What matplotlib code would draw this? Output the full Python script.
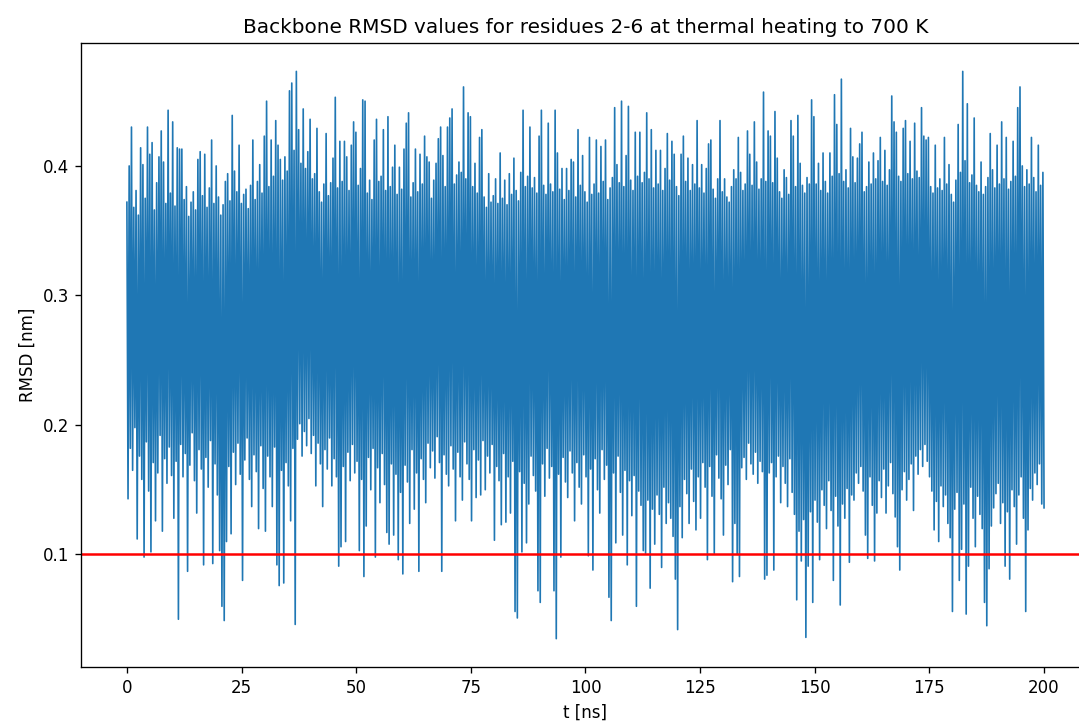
import numpy as np
import matplotlib
matplotlib.use("Agg")
import matplotlib.pyplot as plt

# ==========================================
# Data (nm)
# upper / lower excursions every 0.5 ns, 0 ... 200 ns
# ==========================================

rmsd_high = [
    0.372, 0.400, 0.430, 0.368, 0.381, 0.362, 0.414, 0.401, 0.375, 0.430, 0.409, 0.418, 0.366, 0.387, 0.407, 0.427, 0.403, 0.371, 0.443, 0.379,
    0.434, 0.369, 0.414, 0.413, 0.413, 0.374, 0.384, 0.361, 0.372, 0.380, 0.366, 0.405, 0.411, 0.377, 0.409, 0.368, 0.383, 0.420, 0.371, 0.400,
    0.376, 0.362, 0.370, 0.388, 0.394, 0.373, 0.439, 0.396, 0.380, 0.416, 0.371, 0.378, 0.382, 0.367, 0.385, 0.420, 0.374, 0.388, 0.401, 0.379,
    0.423, 0.450, 0.384, 0.420, 0.392, 0.435, 0.416, 0.405, 0.389, 0.407, 0.396, 0.458, 0.464, 0.412, 0.473, 0.428, 0.402, 0.444, 0.398, 0.411,
    0.436, 0.390, 0.394, 0.429, 0.380, 0.372, 0.386, 0.425, 0.377, 0.387, 0.406, 0.453, 0.383, 0.419, 0.388, 0.419, 0.407, 0.381, 0.416, 0.434,
    0.426, 0.385, 0.398, 0.451, 0.450, 0.379, 0.389, 0.374, 0.420, 0.436, 0.388, 0.392, 0.428, 0.381, 0.438, 0.384, 0.399, 0.416, 0.378, 0.399,
    0.382, 0.413, 0.433, 0.441, 0.376, 0.387, 0.413, 0.380, 0.409, 0.386, 0.423, 0.407, 0.403, 0.375, 0.389, 0.402, 0.421, 0.430, 0.408, 0.384,
    0.430, 0.437, 0.444, 0.386, 0.393, 0.403, 0.395, 0.461, 0.390, 0.441, 0.438, 0.384, 0.402, 0.379, 0.422, 0.428, 0.376, 0.368, 0.394, 0.372,
    0.377, 0.390, 0.371, 0.410, 0.375, 0.389, 0.370, 0.394, 0.378, 0.406, 0.381, 0.373, 0.395, 0.443, 0.384, 0.392, 0.430, 0.383, 0.391, 0.379,
    0.423, 0.443, 0.385, 0.378, 0.433, 0.386, 0.380, 0.443, 0.410, 0.382, 0.398, 0.374, 0.398, 0.381, 0.405, 0.403, 0.376, 0.428, 0.385, 0.408,
    0.380, 0.372, 0.422, 0.378, 0.386, 0.420, 0.379, 0.415, 0.388, 0.420, 0.374, 0.383, 0.391, 0.445, 0.401, 0.387, 0.450, 0.384, 0.408, 0.446,
    0.389, 0.381, 0.426, 0.392, 0.426, 0.387, 0.395, 0.441, 0.390, 0.428, 0.383, 0.412, 0.386, 0.412, 0.381, 0.398, 0.425, 0.389, 0.419, 0.409,
    0.384, 0.377, 0.409, 0.423, 0.388, 0.406, 0.381, 0.401, 0.386, 0.435, 0.383, 0.401, 0.379, 0.398, 0.417, 0.420, 0.382, 0.375, 0.390, 0.435,
    0.380, 0.390, 0.376, 0.372, 0.384, 0.397, 0.390, 0.422, 0.395, 0.381, 0.386, 0.427, 0.409, 0.385, 0.434, 0.403, 0.382, 0.390, 0.457, 0.388,
    0.427, 0.423, 0.387, 0.442, 0.406, 0.380, 0.375, 0.397, 0.391, 0.378, 0.435, 0.423, 0.384, 0.439, 0.402, 0.385, 0.379, 0.391, 0.386, 0.451,
    0.438, 0.386, 0.402, 0.381, 0.410, 0.388, 0.379, 0.410, 0.392, 0.455, 0.432, 0.394, 0.467, 0.388, 0.397, 0.383, 0.429, 0.407, 0.387, 0.406,
    0.417, 0.426, 0.380, 0.384, 0.403, 0.386, 0.410, 0.390, 0.404, 0.422, 0.388, 0.412, 0.385, 0.397, 0.454, 0.434, 0.426, 0.392, 0.388, 0.429,
    0.435, 0.394, 0.419, 0.390, 0.433, 0.396, 0.391, 0.445, 0.423, 0.420, 0.422, 0.384, 0.379, 0.416, 0.383, 0.390, 0.381, 0.422, 0.386, 0.401,
    0.378, 0.372, 0.389, 0.432, 0.395, 0.473, 0.404, 0.448, 0.387, 0.393, 0.437, 0.385, 0.380, 0.403, 0.378, 0.384, 0.391, 0.425, 0.397, 0.383,
    0.416, 0.386, 0.434, 0.390, 0.422, 0.382, 0.388, 0.419, 0.392, 0.445, 0.461, 0.400, 0.384, 0.397, 0.386, 0.422, 0.391, 0.380, 0.416, 0.385,
    0.395,
]

rmsd_low = [
    0.143, 0.182, 0.165, 0.198, 0.112, 0.176, 0.158, 0.098, 0.187, 0.149, 0.102, 0.171, 0.126, 0.163, 0.192, 0.118, 0.174, 0.155, 0.183, 0.161,
    0.128, 0.172, 0.050, 0.185, 0.160, 0.178, 0.087, 0.169, 0.194, 0.157, 0.132, 0.181, 0.166, 0.092, 0.175, 0.152, 0.188, 0.093, 0.170, 0.146,
    0.103, 0.060, 0.049, 0.110, 0.168, 0.116, 0.179, 0.154, 0.186, 0.162, 0.080, 0.173, 0.190, 0.158, 0.137, 0.177, 0.164, 0.120, 0.184, 0.151,
    0.118, 0.176, 0.160, 0.137, 0.183, 0.092, 0.076, 0.165, 0.078, 0.171, 0.153, 0.126, 0.182, 0.046, 0.189, 0.201, 0.176, 0.195, 0.184, 0.205,
    0.178, 0.192, 0.153, 0.186, 0.170, 0.137, 0.181, 0.166, 0.190, 0.153, 0.174, 0.160, 0.091, 0.106, 0.168, 0.110, 0.179, 0.157, 0.185, 0.163,
    0.172, 0.103, 0.158, 0.083, 0.122, 0.175, 0.150, 0.182, 0.098, 0.167, 0.140, 0.178, 0.154, 0.117, 0.108, 0.170, 0.115, 0.162, 0.096, 0.148,
    0.085, 0.169, 0.156, 0.124, 0.181, 0.135, 0.163, 0.087, 0.174, 0.158, 0.140, 0.186, 0.167, 0.180, 0.159, 0.191, 0.171, 0.087, 0.177, 0.162,
    0.153, 0.184, 0.166, 0.126, 0.179, 0.160, 0.142, 0.187, 0.170, 0.158, 0.126, 0.181, 0.144, 0.173, 0.146, 0.188, 0.150, 0.176, 0.163, 0.185,
    0.111, 0.168, 0.157, 0.123, 0.178, 0.125, 0.160, 0.132, 0.172, 0.056, 0.051, 0.164, 0.102, 0.155, 0.109, 0.139, 0.176, 0.161, 0.149, 0.072,
    0.063, 0.170, 0.145, 0.182, 0.159, 0.168, 0.072, 0.035, 0.162, 0.098, 0.175, 0.156, 0.144, 0.180, 0.163, 0.126, 0.171, 0.152, 0.139, 0.177,
    0.160, 0.099, 0.166, 0.088, 0.174, 0.150, 0.132, 0.181, 0.158, 0.169, 0.067, 0.049, 0.163, 0.109, 0.176, 0.148, 0.115, 0.165, 0.092, 0.157,
    0.130, 0.161, 0.060, 0.149, 0.138, 0.103, 0.101, 0.142, 0.074, 0.135, 0.108, 0.146, 0.131, 0.090, 0.152, 0.124, 0.140, 0.128, 0.114, 0.081,
    0.042, 0.137, 0.113, 0.158, 0.147, 0.124, 0.166, 0.141, 0.119, 0.160, 0.128, 0.171, 0.152, 0.096, 0.168, 0.145, 0.101, 0.177, 0.159, 0.143,
    0.115, 0.169, 0.154, 0.181, 0.079, 0.124, 0.100, 0.083, 0.167, 0.175, 0.158, 0.186, 0.170, 0.162, 0.179, 0.155, 0.172, 0.164, 0.081, 0.084,
    0.163, 0.171, 0.088, 0.160, 0.176, 0.140, 0.168, 0.155, 0.137, 0.174, 0.148, 0.131, 0.065, 0.118, 0.095, 0.127, 0.036, 0.091, 0.133, 0.063,
    0.142, 0.125, 0.096, 0.150, 0.138, 0.120, 0.157, 0.134, 0.080, 0.145, 0.122, 0.061, 0.139, 0.128, 0.151, 0.094, 0.146, 0.142, 0.163, 0.155,
    0.168, 0.149, 0.115, 0.097, 0.160, 0.138, 0.095, 0.132, 0.157, 0.144, 0.166, 0.132, 0.153, 0.171, 0.147, 0.129, 0.106, 0.088, 0.150, 0.164,
    0.142, 0.158, 0.170, 0.134, 0.176, 0.162, 0.181, 0.168, 0.185, 0.172, 0.160, 0.149, 0.119, 0.141, 0.110, 0.153, 0.137, 0.146, 0.124, 0.113,
    0.056, 0.135, 0.148, 0.080, 0.104, 0.139, 0.054, 0.091, 0.152, 0.128, 0.106, 0.145, 0.131, 0.120, 0.063, 0.045, 0.089, 0.122, 0.136, 0.147,
    0.155, 0.124, 0.140, 0.091, 0.133, 0.081, 0.150, 0.137, 0.108, 0.146, 0.160, 0.128, 0.056, 0.119, 0.151, 0.142, 0.163, 0.154, 0.170, 0.139,
    0.136,
]

t_start, t_end = 0.0, 200.0   # ns
threshold = 0.1               # nm

# interleave the excursions into one trajectory
rmsd = np.column_stack([rmsd_high, rmsd_low]).ravel()
t = np.linspace(t_start, t_end, len(rmsd))

# ==========================================
# Plot
# ==========================================

fig = plt.figure(figsize=(1079 / 120, 727 / 120), dpi=120)
ax = fig.add_axes([0.0751, 0.0825, 0.935, 0.8583])

ax.plot(t, rmsd, color="#1f77b4", linewidth=1.0)
ax.axhline(y=threshold, color="red")

ax.set_xlim(-10, 210)
ax.set_xlabel("t [ns]")
ax.set_ylabel("RMSD [nm]")
ax.set_title("Backbone RMSD values for residues 2-6 at thermal heating to 700 K")

fig.savefig("out.png", dpi=120)
plt.close(fig)
